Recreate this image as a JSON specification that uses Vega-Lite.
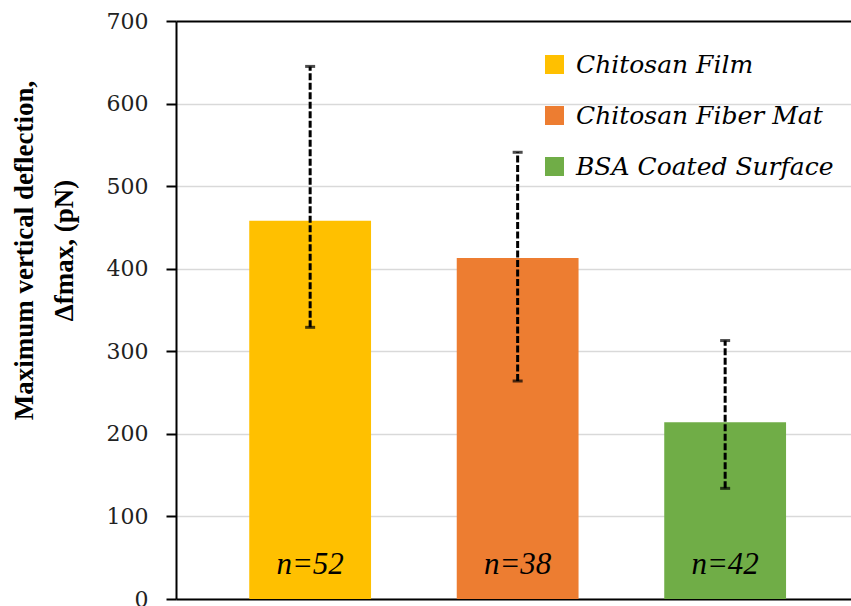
{
  "$schema": "https://vega.github.io/schema/vega-lite/v6.json",
  "autosize": "none",
  "width": 675,
  "height": 578,
  "padding": {"left": 176, "top": 21, "right": 0, "bottom": 7},
  "background": "white",
  "config": {"view": {"stroke": null}},
  "data": {
    "values": [
      {"surface": "Chitosan Film", "mean": 458, "lo": 329, "hi": 645, "n": "n=52"},
      {"surface": "Chitosan Fiber Mat", "mean": 413, "lo": 264, "hi": 541, "n": "n=38"},
      {"surface": "BSA Coated Surface", "mean": 214, "lo": 134, "hi": 313, "n": "n=42"}
    ]
  },
  "encoding": {
    "x": {
      "field": "surface",
      "type": "nominal",
      "sort": ["Chitosan Film", "Chitosan Fiber Mat", "BSA Coated Surface"],
      "scale": {"paddingInner": 0.413, "paddingOuter": 0.333, "align": 0.53},
      "axis": {"labels": false, "ticks": false, "title": null, "domainColor": "black", "domainWidth": 2, "grid": false}
    }
  },
  "layer": [
    {
      "mark": {"type": "bar"},
      "encoding": {
        "y": {
          "field": "mean",
          "type": "quantitative",
          "scale": {"domain": [0, 700], "nice": false},
          "axis": {
            "values": [0, 100, 200, 300, 400, 500, 600, 700],
            "title": ["Maximum vertical deflection,", "Δfmax, (pN)"],
            "titleFont": "Liberation Serif",
            "titleFontWeight": "bold",
            "titleFontSize": 27,
            "titleColor": "black",
            "titleAngle": -90,
            "titleBaseline": "top",
            "titleAlign": "center",
            "titleLineHeight": 40,
            "titleX": -165,
            "titleY": 229,
            "labelFont": "DejaVu Serif",
            "labelFontSize": 22,
            "labelColor": "#222222",
            "labelPadding": 18,
            "tickColor": "black",
            "tickWidth": 2,
            "tickSize": 10,
            "domainColor": "black",
            "domainWidth": 2,
            "grid": true,
            "gridColor": {"condition": {"test": "datum.value === 700", "value": "black"}, "value": "#d9d9d9"},
            "gridWidth": {"condition": {"test": "datum.value === 700", "value": 2}, "value": 1.5}
          }
        },
        "color": {
          "field": "surface",
          "type": "nominal",
          "sort": ["Chitosan Film", "Chitosan Fiber Mat", "BSA Coated Surface"],
          "scale": {"domain": ["Chitosan Film", "Chitosan Fiber Mat", "BSA Coated Surface"], "range": ["#FFC000", "#ED7D31", "#70AD47"]},
          "legend": {
            "title": null,
            "orient": "none",
            "legendX": 366,
            "legendY": 31,
            "symbolType": "square",
            "symbolSize": 360,
            "symbolStrokeWidth": 0,
            "labelFont": "DejaVu Serif",
            "labelFontStyle": "italic",
            "labelFontSize": 25,
            "labelColor": "black",
            "labelOffset": 9,
            "rowPadding": 25,
            "labelLimit": 400
          }
        }
      }
    },
    {
      "mark": {"type": "rule", "color": "black", "strokeWidth": 3, "strokeDash": [7, 2.5]},
      "encoding": {
        "y": {"field": "lo", "type": "quantitative"},
        "y2": {"field": "hi"}
      }
    },
    {
      "mark": {"type": "tick", "color": "black", "thickness": 3, "size": 10},
      "encoding": {"y": {"field": "lo", "type": "quantitative"}}
    },
    {
      "mark": {"type": "tick", "color": "black", "thickness": 3, "size": 10},
      "encoding": {"y": {"field": "hi", "type": "quantitative"}}
    },
    {
      "mark": {"type": "text", "font": "Liberation Serif", "fontStyle": "italic", "fontSize": 31, "color": "black", "baseline": "middle", "align": "center"},
      "encoding": {
        "y": {"datum": 41},
        "text": {"field": "n"}
      }
    }
  ]
}
